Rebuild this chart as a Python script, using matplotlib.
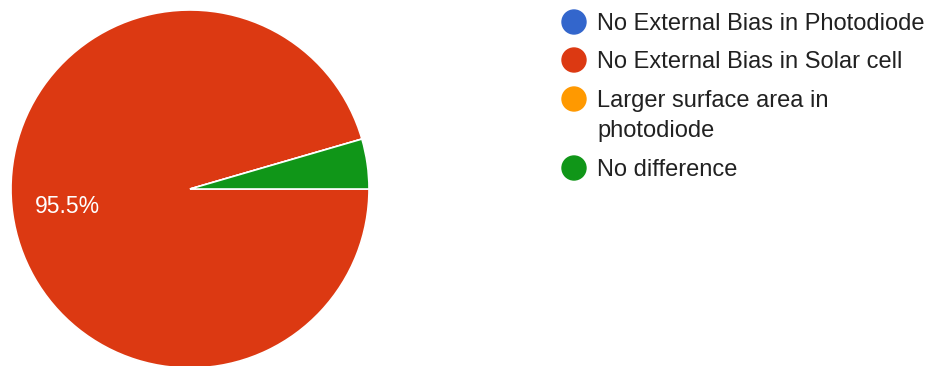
import matplotlib.pyplot as plt
from matplotlib.patches import Circle

plt.rcParams['font.family'] = ['Liberation Sans', 'DejaVu Sans']

labels = ['No External Bias in Photodiode', 'No External Bias in Solar cell',
          'Larger surface area in\nphotodiode', 'No difference']
shares = [0.0, 95.5, 0.0, 4.5]
colors = ['#3366cc', '#dc3912', '#ff9900', '#109618']

W, H = 933, 366
fig = plt.figure(figsize=(W / 100, H / 100), dpi=100)

# pie: centre at (190, 189) px, radius 179 px
cx, cy, r = 190, 189, 179
ax = fig.add_axes([(cx - r) / W, (H - cy - r) / H, 2 * r / W, 2 * r / H])
wedges, texts, autotexts = ax.pie(
    shares, colors=colors, startangle=0, counterclock=False,
    autopct=lambda p: f'{p:.1f}%' if p > 5 else '',
    pctdistance=0.69,
    wedgeprops=dict(edgecolor='white', linewidth=1.2),
    textprops=dict(color='white', fontsize=16.5))
ax.set_xlim(-1, 1)
ax.set_ylim(-1, 1)
ax.set_aspect('equal')

# legend drawn in pixel coordinates
lax = fig.add_axes([0, 0, 1, 1])
lax.set_xlim(0, W)
lax.set_ylim(H, 0)
lax.axis('off')
rows_y = [22, 60, 99, 168]
for lab, col, y in zip(labels, colors, rows_y):
    lax.add_patch(Circle((574, y), 12, color=col))
    for i, line in enumerate(lab.split('\n')):
        lax.text(597, y + 8 + 30 * i, line, fontsize=17, color='#212121',
                 va='baseline')

fig.savefig('out.png', dpi=100)
